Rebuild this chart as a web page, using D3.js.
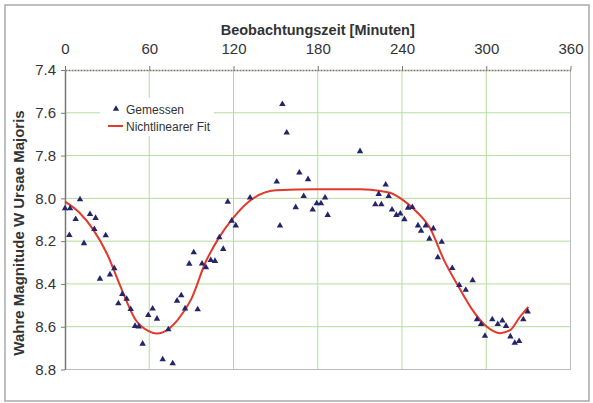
<!DOCTYPE html>
<html>
<head>
<meta charset="utf-8">
<script src="https://cdnjs.cloudflare.com/ajax/libs/d3/7.8.5/d3.min.js"></script>
<style>
  body { margin: 0; background: #fff; }
  text { font-family: "Liberation Sans", Arial, sans-serif; fill: #333; }
</style>
</head>
<body>
<div id="chart"></div>
<script>
// measured points: minutes / magnitude
var measMinutes = [0, 3.1, 3.6, 7.6, 10.7, 13.5, 17.8, 20.9, 21.8, 24.9, 29, 32, 35.1, 38, 40.8, 43.9,
  46.8, 49.9, 52.5, 55.3, 59.3, 62.4, 65.5, 69.6, 73.6, 76.7, 79.8, 82.8, 85.5, 88.5, 91.7, 94.5,
  97.6, 100.4, 103.8, 106.8, 109.9, 112.7, 115.9, 118.7, 121.6, 131.8, 150.8, 153.1, 154.8, 157.9,
  164.3, 166.9, 170, 173.1, 176.4, 179.3, 182.3, 185.2, 187.1, 210.1, 221, 223.4, 225.3, 228.4,
  230.5, 232.9, 236, 238.8, 241.7, 244.3, 247.4, 251.4, 253.6, 256.9, 259.5, 262.3, 265.5, 268.3,
  275.8, 280.8, 285.4, 290.3, 293.4, 296.3, 299.1, 304.3, 308.2, 311.5, 314.1, 317.2, 320.3, 323.4,
  326.4, 329.5];
var measMag = [8.047, 8.172, 8.047, 8.097, 8.005, 8.21, 8.074, 8.144, 8.092, 8.376, 8.173, 8.356, 8.327, 8.491, 8.448, 8.47,
  8.518, 8.597, 8.60, 8.68, 8.546, 8.516, 8.563, 8.753, 8.613, 8.772, 8.479, 8.454, 8.515, 8.306, 8.253, 8.519,
  8.305, 8.323, 8.289, 8.293, 8.183, 8.237, 8.016, 8.105, 8.127, 7.997, 7.922, 8.128, 7.56, 7.693,
  8.042, 7.88, 7.99, 7.911, 8.053, 8.024, 8.024, 7.997, 8.078, 7.78, 8.028, 7.98, 8.028, 7.936,
  7.99, 8.053, 8.078, 8.072, 8.098, 8.044, 8.041, 8.127, 8.152, 8.128, 8.189, 8.141, 8.276, 8.204,
  8.326, 8.406, 8.428, 8.384, 8.566, 8.588, 8.643, 8.566, 8.588, 8.572, 8.597, 8.646, 8.676, 8.668,
  8.566, 8.529];

// fitted curve
var fitMinutes = [0, 10, 20, 30, 40, 50, 60, 65, 70, 80, 90, 100, 110, 120, 131, 150, 180, 210, 225, 232,
  240, 250, 260, 270, 280, 290, 300, 310, 317, 324, 330];
var fitMag = [8.015, 8.065, 8.145, 8.26, 8.42, 8.565, 8.622, 8.632, 8.625, 8.57, 8.47, 8.30, 8.18, 8.09, 8.015, 7.962, 7.957, 7.958, 7.966, 7.975,
  8.005, 8.06, 8.14, 8.29, 8.41, 8.52, 8.598, 8.63, 8.616, 8.554, 8.507];

var xTicks = [0, 60, 120, 180, 240, 300, 360];
var yTicks = [7.4, 7.6, 7.8, 8.0, 8.2, 8.4, 8.6, 8.8];

var width = 593, height = 403;
var plotL = 65, plotR = 570.5, plotT = 70, plotB = 369.5;

var x = d3.scaleLinear().domain([0, 360]).range([plotL, plotR]);
var y = d3.scaleLinear().domain([7.4, 8.8]).range([plotT, plotB]);

var svg = d3.select('#chart').append('svg')
    .attr('width', width)
    .attr('height', height);

// outer frame
svg.append('rect')
    .attr('x', 5).attr('y', 5)
    .attr('width', 584).attr('height', 396)
    .attr('fill', '#fff')
    .attr('stroke', '#aaa')
    .attr('stroke-width', 1.5);

// grid
svg.append('g').selectAll('line')
    .data(xTicks.slice(1, -1))
    .enter().append('line')
    .attr('x1', d => x(d)).attr('x2', d => x(d))
    .attr('y1', plotT).attr('y2', plotB)
    .attr('stroke', '#b5dca0');

svg.append('g').selectAll('line')
    .data(yTicks.slice(1, -1))
    .enter().append('line')
    .attr('x1', plotL).attr('x2', plotR)
    .attr('y1', d => y(d)).attr('y2', d => y(d))
    .attr('stroke', '#b5dca0');

// right / bottom border
svg.append('path')
    .attr('d', 'M' + plotR + ',' + plotT + 'V' + plotB + 'H' + plotL)
    .attr('fill', 'none')
    .attr('stroke', '#bbb');

// axes
var xAxis = svg.append('g')
    .attr('transform', 'translate(0,' + plotT + ')')
    .call(d3.axisTop(x).tickValues(xTicks).tickSizeInner(4).tickSizeOuter(0).tickPadding(12));
xAxis.select('.domain').attr('stroke', '#7d7468').attr('stroke-width', 1.6).attr('stroke-dasharray', '2,1');
xAxis.selectAll('.tick line').attr('stroke', '#777');
xAxis.selectAll('text').style('font-size', '15px').attr('fill', '#333');

var yAxis = svg.append('g')
    .attr('transform', 'translate(' + plotL + ',0)')
    .call(d3.axisLeft(y).tickValues(yTicks).tickFormat(d3.format('.1f')).tickSizeInner(4).tickSizeOuter(0).tickPadding(5));
yAxis.select('.domain').attr('stroke', '#777').attr('stroke-width', 1.5);
yAxis.selectAll('.tick line').attr('stroke', '#777');
yAxis.selectAll('text').style('font-size', '15px').attr('fill', '#333');

// titles
svg.append('text')
    .attr('x', (plotL + plotR) / 2)
    .attr('y', 35)
    .attr('text-anchor', 'middle')
    .style('font-size', '14.5px')
    .style('font-weight', 'bold')
    .text('Beobachtungszeit [Minuten]');

svg.append('text')
    .attr('transform', 'translate(24,233) rotate(-90)')
    .attr('text-anchor', 'middle')
    .style('font-size', '15px')
    .style('font-weight', 'bold')
    .text('Wahre Magnitude W Ursae Majoris');

// fit line
var fitData = fitMinutes.map((m, i) => [m, fitMag[i]]);
var fitLine = d3.line()
    .x(d => x(d[0]))
    .y(d => y(d[1]))
    .curve(d3.curveMonotoneX);
svg.append('path')
    .datum(fitData)
    .attr('d', fitLine)
    .attr('fill', 'none')
    .attr('stroke', '#e2392b')
    .attr('stroke-width', 2);

// measured points
var tri = d3.symbol().type(d3.symbolTriangle).size(18);
svg.append('g').selectAll('path')
    .data(measMinutes.map((m, i) => [m, measMag[i]]))
    .enter().append('path')
    .attr('d', tri)
    .attr('transform', d => 'translate(' + x(d[0]) + ',' + y(d[1]) + ')')
    .attr('fill', '#24246b');

// legend
var lg = svg.append('g');
lg.append('rect')
    .attr('x', 100).attr('y', 98)
    .attr('width', 114).attr('height', 38)
    .attr('fill', '#fff');
lg.append('path')
    .attr('d', tri)
    .attr('transform', 'translate(116,109)')
    .attr('fill', '#24246b');
lg.append('text')
    .attr('x', 126).attr('y', 113.5)
    .style('font-size', '12px')
    .text('Gemessen');
lg.append('line')
    .attr('x1', 108).attr('x2', 123)
    .attr('y1', 126).attr('y2', 126)
    .attr('stroke', '#e2392b')
    .attr('stroke-width', 2);
lg.append('text')
    .attr('x', 126).attr('y', 130.5)
    .style('font-size', '12px')
    .text('Nichtlinearer Fit');
</script>
</body>
</html>
